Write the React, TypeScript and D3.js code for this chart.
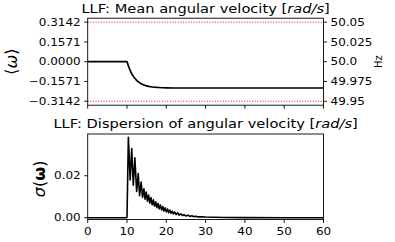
import React from 'react';
import * as d3 from 'd3';

// mean angular velocity (rad/s) vs time (s)
const meanTime = [0, 10, 10.25, 10.5, 10.75, 11, 11.5, 12, 12.5, 13, 13.5, 14, 15, 16, 17, 18, 20, 22, 25, 30, 40, 60];
const meanOmega = [0, 0, -0.024, -0.046, -0.065, -0.082, -0.111, -0.132, -0.150, -0.162, -0.173, -0.181, -0.192, -0.199, -0.203, -0.205, -0.208, -0.209, -0.209, -0.209, -0.209, -0.209];

// dispersion of angular velocity vs time (s)
const dispTime = [0, 9.95, 10.0, 10.35, 10.8, 11.2, 11.6, 12.0, 12.45, 12.85, 13.2, 13.6, 13.95, 14.3, 14.6, 14.9, 15.2, 15.5, 15.8, 16.1, 16.4, 16.7, 17.0, 17.3, 17.6, 17.9, 18.2, 18.5, 18.8, 19.1, 19.4, 19.7, 20.0, 20.3, 20.6, 20.9, 21.2, 21.5, 21.8, 22.1, 22.5, 22.9, 23.3, 23.7, 24.1, 24.5, 25.0, 25.5, 26.0, 26.5, 27.0, 27.5, 28.0, 29.0, 30, 32, 35, 40, 50, 60];
const dispSigma = [0, 0, 0.0005, 0.0383, 0.018, 0.033, 0.0155, 0.0285, 0.0125, 0.021, 0.0105, 0.017, 0.0097, 0.0138, 0.0088, 0.0122, 0.0079, 0.0108, 0.0070, 0.0096, 0.0062, 0.0085, 0.0055, 0.0076, 0.0048, 0.0068, 0.0042, 0.0060, 0.0037, 0.0053, 0.0032, 0.0047, 0.0028, 0.0041, 0.0024, 0.0036, 0.0021, 0.0031, 0.0018, 0.0027, 0.0015, 0.0023, 0.0012, 0.0019, 0.0010, 0.0015, 0.0008, 0.0012, 0.0006, 0.0009, 0.0005, 0.0007, 0.0004, 0.0004, 0.0003, 0.0002, 0.0001, 0.00004, 0.00001, 0];

const xTicks = [0, 10, 20, 30, 40, 50, 60];
const omegaTicks = [0.3142, 0.1571, 0, -0.1571, -0.3142];
const omegaLabels = ['0.3142', '0.1571', '0.0000', '\u22120.1571', '\u22120.3142'];
const hzTicks = [50.05, 50.025, 50.0, 49.975, 49.95];
const hzLabels = ['50.05', '50.025', '50.0', '49.975', '49.95'];
const sigmaTicks = [0, 0.02];
const sigmaLabels = ['0.00', '0.02'];
const limitLines = [0.3142, -0.3142];

const W = 395;
const H = 242;
const SX = 1.2; // horizontal stretch of the reference text
const FONT = 'DejaVu Sans';

const SText = ({ x, y, anchor = 'start', size = 10, children }: any) => (
  <text
    transform={`translate(${x},${y}) scale(${SX},1)`}
    textAnchor={anchor}
    fontSize={size}
    fontFamily={FONT}
    fill="#000"
  >
    {children}
  </text>
);

export default function App() {
  const x = d3.scaleLinear().domain([0, 60]).range([87.7, 323.5]);
  const yTop = d3.scaleLinear().domain([-0.3456, 0.3456]).range([105.2, 18.2]);
  const yHz = d3.scaleLinear().domain([50 - 0.055, 50 + 0.055]).range([105.2, 18.2]);
  const yBot = d3.scaleLinear().domain([-0.00086, 0.0399]).range([219.5, 134]);

  const meanLine = d3.line<number>()
    .x((_, i) => x(meanTime[i]))
    .y(d => yTop(d))
    .curve(d3.curveMonotoneX);
  const dispLine = d3.line<number>()
    .x((_, i) => x(dispTime[i]))
    .y(d => yBot(d));

  const [l, r] = x.range();
  const tickLen = 3.5;

  return (
    <div style={{ position: 'absolute', left: 0, top: 0 }}>
      <svg width={W} height={H} style={{ display: 'block' }}>
        <rect width={W} height={H} fill="#fff" />

        {/* top panel */}
        <SText x={(l + r) / 2} y={12.5} anchor="middle" size={12.2}>
          LLF: Mean angular velocity [<tspan fontStyle="italic">rad/s</tspan>]
        </SText>
        {limitLines.map(v => (
          <line key={v} x1={l} x2={r} y1={yTop(v)} y2={yTop(v)} stroke="red" strokeWidth={1} strokeDasharray="1,1.65" />
        ))}
        <path d={meanLine(meanOmega) || ''} fill="none" stroke="#000" strokeWidth={1.7} />
        <rect x={l} y={yTop.range()[1]} width={r - l} height={yTop.range()[0] - yTop.range()[1]} fill="none" stroke="#000" strokeWidth={0.9} />
        {omegaTicks.map((v, i) => (
          <g key={v}>
            <line x1={l - tickLen} x2={l} y1={yTop(v)} y2={yTop(v)} stroke="#000" strokeWidth={0.9} />
            <SText x={l - 7} y={yTop(v) + 3.6} anchor="end">{omegaLabels[i]}</SText>
          </g>
        ))}
        {hzTicks.map((v, i) => (
          <g key={v}>
            <line x1={r} x2={r + tickLen} y1={yHz(v)} y2={yHz(v)} stroke="#000" strokeWidth={0.9} />
            <SText x={r + 7} y={yHz(v) + 3.6}>{hzLabels[i]}</SText>
          </g>
        ))}
        {xTicks.map(v => (
          <line key={v} x1={x(v)} x2={x(v)} y1={yTop.range()[0]} y2={yTop.range()[0] + tickLen} stroke="#000" strokeWidth={0.9} />
        ))}
        <text transform={`translate(16.5,${yTop(0)}) rotate(-90)`} textAnchor="middle" fontSize={16.5} fontFamily={FONT}>
          ⟨<tspan fontStyle="italic">ω</tspan>⟩
        </text>
        <text transform={`translate(378,${yTop(0)}) rotate(-90)`} textAnchor="middle" dominantBaseline="central" fontSize={10} fontFamily={FONT}>
          Hz
        </text>

        {/* bottom panel */}
        <SText x={(l + r) / 2} y={128.3} anchor="middle" size={12.2}>
          LLF: Dispersion of angular velocity [<tspan fontStyle="italic">rad/s</tspan>]
        </SText>
        <path d={dispLine(dispSigma) || ''} fill="none" stroke="#000" strokeWidth={1.6} strokeLinejoin="round" />
        <rect x={l} y={yBot.range()[1]} width={r - l} height={yBot.range()[0] - yBot.range()[1]} fill="none" stroke="#000" strokeWidth={0.9} />
        {sigmaTicks.map((v, i) => (
          <g key={v}>
            <line x1={l - tickLen} x2={l} y1={yBot(v)} y2={yBot(v)} stroke="#000" strokeWidth={0.9} />
            <SText x={l - 7} y={yBot(v) + 3.6} anchor="end">{sigmaLabels[i]}</SText>
          </g>
        ))}
        {xTicks.map(v => (
          <g key={v}>
            <line x1={x(v)} x2={x(v)} y1={yBot.range()[0]} y2={yBot.range()[0] + tickLen} stroke="#000" strokeWidth={0.9} />
            <SText x={x(v)} y={235} anchor="middle">{v}</SText>
          </g>
        ))}
        <text transform={`translate(45,${yBot(0.0185)}) rotate(-90)`} textAnchor="middle" fontSize={16} fontFamily={FONT}>
          <tspan fontStyle="italic">σ</tspan>(<tspan fontWeight="bold">ω</tspan>)
        </text>
      </svg>
    </div>
  );
}
